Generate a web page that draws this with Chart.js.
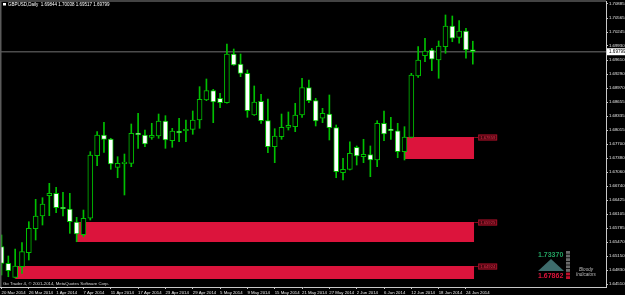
<!DOCTYPE html>
<html>
<head>
<meta charset="utf-8">
<script src="https://cdn.jsdelivr.net/npm/chart.js@4.4.1/dist/chart.umd.min.js"></script>
<style>
  html, body { margin: 0; padding: 0; background: #000; }
  canvas { display: block; }
</style>
</head>
<body>
<canvas id="chart" width="625" height="295"></canvas>
<script>
// GBPUSD daily, 20 Mar 2014 - 25 Jun 2014 (one entry per trading day)
const openP = [
  1.65364, 1.64986, 1.64667, 1.64909, 1.65227, 1.65773, 1.66062, 1.66524, 1.66578, 1.66260,
  1.66221, 1.65925, 1.65637, 1.66010, 1.67434, 1.67905, 1.67814, 1.67170, 1.67255, 1.67261,
  1.67934, 1.67905, 1.67852, 1.67882, 1.68223, 1.67775, 1.67996, 1.68002, 1.68034, 1.68246,
  1.68701, 1.68913, 1.68740, 1.68640, 1.69747, 1.69520, 1.69308, 1.68360, 1.68671, 1.68230,
  1.67639, 1.67866, 1.68080, 1.68093, 1.68360, 1.68981, 1.68685, 1.68285, 1.68382, 1.68071,
  1.67047, 1.67124, 1.67625, 1.67411, 1.67457, 1.67336, 1.68171, 1.68041, 1.68002, 1.67525,
  1.67852, 1.69247, 1.69709, 1.69839, 1.69611, 1.69914, 1.70385, 1.70127, 1.70271, 1.69844
];
const highP = [
  1.65630, 1.65152, 1.65311, 1.65455, 1.65932, 1.66442, 1.66478, 1.66806, 1.66715, 1.66601,
  1.66578, 1.66032, 1.66198, 1.67525, 1.67980, 1.68194, 1.67830, 1.67411, 1.67472, 1.68155,
  1.68398, 1.68018, 1.68171, 1.68382, 1.68344, 1.68057, 1.68285, 1.68246, 1.68451, 1.69004,
  1.69179, 1.68944, 1.68853, 1.69975, 1.69861, 1.69747, 1.69384, 1.69020, 1.68831, 1.68724,
  1.68048, 1.68382, 1.68428, 1.68626, 1.69195, 1.69156, 1.68740, 1.68512, 1.68815, 1.68132,
  1.67375, 1.67752, 1.67655, 1.67807, 1.67655, 1.68230, 1.68451, 1.68308, 1.68171, 1.68094,
  1.69308, 1.69914, 1.70105, 1.69877, 1.70043, 1.70635, 1.70612, 1.70505, 1.70332, 1.70038
];
const lowP = [
  1.64720, 1.64681, 1.64651, 1.64758, 1.65061, 1.65516, 1.65857, 1.66069, 1.66137, 1.66062,
  1.65668, 1.65477, 1.65591, 1.65971, 1.67206, 1.67511, 1.67124, 1.66933, 1.66540, 1.67184,
  1.67602, 1.67639, 1.67807, 1.67830, 1.67602, 1.67625, 1.67752, 1.67752, 1.67921, 1.68057,
  1.68685, 1.68185, 1.68526, 1.68630, 1.69490, 1.69231, 1.68307, 1.68350, 1.68171, 1.67502,
  1.67275, 1.67807, 1.68018, 1.67980, 1.68307, 1.68640, 1.68110, 1.68185, 1.67791, 1.66933,
  1.66881, 1.67109, 1.67222, 1.67275, 1.66957, 1.67184, 1.67775, 1.67807, 1.67388, 1.67336,
  1.67840, 1.69217, 1.69572, 1.69368, 1.69195, 1.69763, 1.70027, 1.69991, 1.69650, 1.69517
];
const closeP = [
  1.64986, 1.64818, 1.64924, 1.65250, 1.65782, 1.66062, 1.66335, 1.66578, 1.66251, 1.66228,
  1.65932, 1.65652, 1.66010, 1.67450, 1.67905, 1.67807, 1.67245, 1.67261, 1.67265, 1.67943,
  1.67912, 1.67700, 1.67898, 1.68223, 1.67791, 1.67996, 1.67950, 1.68034, 1.68246, 1.68717,
  1.68913, 1.68656, 1.68640, 1.69747, 1.69497, 1.69308, 1.68458, 1.68656, 1.68230, 1.67639,
  1.67882, 1.68080, 1.68126, 1.68360, 1.68981, 1.68685, 1.68223, 1.68398, 1.68071, 1.67070,
  1.67124, 1.67488, 1.67427, 1.67466, 1.67336, 1.68171, 1.67928, 1.68002, 1.67525, 1.67859,
  1.69270, 1.69611, 1.69816, 1.69627, 1.69930, 1.70385, 1.70105, 1.70271, 1.69839, 1.69799
];

const dateTickIdx = [0, 4, 8, 12, 16, 20, 24, 28, 32, 36, 40, 44, 48, 52, 56, 60, 64, 68];
const dateLabels = ['20 Mar 2014', '26 Mar 2014', '1 Apr 2014', '7 Apr 2014', '11 Apr 2014',
  '17 Apr 2014', '23 Apr 2014', '29 Apr 2014', '5 May 2014', '9 May 2014', '15 May 2014',
  '21 May 2014', '27 May 2014', '2 Jun 2014', '6 Jun 2014', '12 Jun 2014', '18 Jun 2014', '24 Jun 2014'];

const yTickVals = [1.70885, 1.70565, 1.70245, 1.69930, 1.69610, 1.69290, 1.68970, 1.68655, 1.68335,
  1.68015, 1.67700, 1.67380, 1.67060, 1.66740, 1.66425, 1.66105, 1.65785, 1.65470, 1.65150, 1.64830, 1.64510];

const bidPrice = 1.69799;

// supply / demand zones (rectangles), from bar index to bar index
const rectFrom = [59, 11, 2];
const rectTo = [69.2, 69.2, 69.2];
const rectTop = [1.67859, 1.65925, 1.64924];
const rectBottom = [1.67359, 1.65470, 1.64629];
const rectLabels = ['1.67859', '1.65925', '1.64924'];

const headerText = 'GBPUSD,Daily  1.69844 1.70038 1.69517 1.69799';
const footerText = 'Go Trader 4, \u00a9 2001-2014, MetaQuotes Software Corp.';
const indHigh = '1.73370';
const indLow = '1.67862';

const green = '#00c000';
const crimson = '#dc143c';
const axisCol = '#c8c8c8';
const tiny = { family: 'Liberation Sans', size: 4.3 };

const idx = openP.map((_, i) => i);
const wickData = idx.map(i => ({ x: i, y: [lowP[i], highP[i]] }));
const bodyData = idx.map(i => ({ x: i, y: [openP[i], closeP[i]] }));
const bodyFill = idx.map(i => (closeP[i] >= openP[i] ? '#000000' : '#ffffff'));

const datasets = [];
rectTop.forEach((top, k) => {
  datasets.push({
    type: 'line', data: [{ x: rectFrom[k], y: top }, { x: rectTo[k], y: top }],
    fill: '+1', backgroundColor: crimson, borderColor: 'rgba(0,0,0,0)',
    borderWidth: 1, pointRadius: 0, order: 10
  });
  datasets.push({
    type: 'line', data: [{ x: rectFrom[k], y: rectBottom[k] }, { x: rectTo[k], y: rectBottom[k] }],
    fill: false, borderColor: 'rgba(0,0,0,0)', borderWidth: 1, pointRadius: 0, order: 10
  });
});
datasets.push({
  type: 'line', data: [{ x: -1, y: bidPrice }, { x: 90, y: bidPrice }],
  borderColor: '#4c4c4c', borderWidth: 1.5, pointRadius: 0, fill: false, order: 9
});
datasets.push({
  type: 'bar', data: wickData, backgroundColor: green, borderWidth: 0,
  barThickness: 1, grouped: false, order: 2
});
datasets.push({
  type: 'bar', data: bodyData, backgroundColor: bodyFill, borderColor: green,
  borderWidth: 1, borderSkipped: false, barThickness: 5, minBarLength: 1.5,
  grouped: false, order: 1
});

const decor = {
  id: 'decor',
  beforeDraw(chart) {
    const c = chart.ctx;
    c.save();
    c.fillStyle = '#000';
    c.fillRect(0, 0, chart.width, chart.height);
    c.restore();
  },
  afterDraw(chart) {
    const c = chart.ctx;
    const a = chart.chartArea;
    const xs = chart.scales.x, ys = chart.scales.y;
    c.save();
    // chart frame (top / left)
    c.strokeStyle = '#5a5a5a';
    c.lineWidth = 1.5;
    c.beginPath();
    c.moveTo(a.left + 0.75, a.bottom);
    c.lineTo(a.left + 0.75, a.top);
    c.lineTo(a.right, a.top);
    c.stroke();

    // header
    c.fillStyle = '#ffffff';
    c.fillRect(3, 3, 3, 2.5);
    c.font = '4.5px "Liberation Sans"';
    c.textBaseline = 'middle';
    c.textAlign = 'left';
    c.fillText(headerText, 8, 4.5);

    // footer
    c.fillStyle = '#d8d8d8';
    c.font = '4.3px "Liberation Sans"';
    c.fillText(footerText, 3, 283.5);

    // rectangle price labels
    rectTop.forEach((top, k) => {
      const xr = xs.getPixelForValue(rectTo[k]);
      const yt = ys.getPixelForValue(top);
      c.strokeStyle = '#8b0a1e';
      c.lineWidth = 1;
      c.beginPath();
      c.moveTo(xr, yt + 0.5);
      c.lineTo(xr + 4, yt + 0.5);
      c.stroke();
      c.fillStyle = '#4a0610';
      c.fillRect(xr + 4, yt - 2.5, 19, 6);
      c.strokeStyle = '#a01028';
      c.strokeRect(xr + 4.5, yt - 2, 18, 5);
      c.fillStyle = '#e0304c';
      c.font = '4.2px "Liberation Sans"';
      c.fillText(rectLabels[k], xr + 6, yt + 0.6);
    });

    // bid price label on the axis
    const yb = ys.getPixelForValue(bidPrice);
    c.fillStyle = '#ffffff';
    c.fillRect(a.right + 1, yb - 3.5, 19, 7);
    c.fillStyle = '#000000';
    c.font = '4.6px "Liberation Sans"';
    c.fillText(bidPrice.toFixed(5), a.right + 3, yb + 0.3);

    // indicator block bottom right
    c.font = 'bold 7px "Liberation Sans"';
    c.fillStyle = '#23a060';
    c.fillText(indHigh, 538, 255);
    c.fillStyle = '#3e6c6c';
    c.beginPath();
    c.moveTo(538, 271);
    c.lineTo(551, 259);
    c.lineTo(564, 271);
    c.closePath();
    c.fill();
    c.fillStyle = crimson;
    c.fillText(indLow, 538, 276);
    for (let s = 0; s < 8; s++) {
      c.fillStyle = s >= 6 ? '#c0102c' : '#6a6a6a';
      c.fillRect(566, 251 + s * 3.6, 4, 2.8);
    }
    c.fillStyle = '#bdbdbd';
    c.font = 'italic 4.6px "Liberation Sans"';
    c.fillText('Bloody', 579, 270);
    c.fillText('Indicators', 576, 274.5);
    c.restore();
  }
};

new Chart(document.getElementById('chart'), {
  type: 'bar',
  data: { datasets: datasets },
  plugins: [decor],
  options: {
    responsive: false,
    animation: false,
    events: [],
    layout: { padding: { top: 1, left: 0, right: 0, bottom: 0 } },
    plugins: {
      legend: { display: false },
      tooltip: { enabled: false },
      filler: { drawTime: 'beforeDatasetsDraw' }
    },
    scales: {
      x: {
        type: 'linear', position: 'bottom', offset: false,
        min: -0.22, max: 88.5,
        afterBuildTicks: s => { s.ticks = dateTickIdx.map(v => ({ value: v })); },
        afterFit: s => { s.height = 8; s.paddingLeft = 0; s.paddingRight = 0; },
        ticks: {
          autoSkip: false, maxRotation: 0, align: 'start', padding: 1,
          color: '#e6e6e6', font: tiny,
          callback: (v, i) => dateLabels[i]
        },
        grid: { drawOnChartArea: false, offset: false, tickLength: 2, color: axisCol },
        border: { display: true, color: axisCol, width: 1 }
      },
      y: {
        type: 'linear', position: 'right',
        min: 1.64447, max: 1.70953,
        afterBuildTicks: s => { s.ticks = yTickVals.map(v => ({ value: v })); },
        afterFit: s => { s.width = 19; s.paddingTop = 0; s.paddingBottom = 0; },
        ticks: {
          padding: 1, color: '#e6e6e6', font: tiny,
          callback: v => v.toFixed(5)
        },
        grid: { drawOnChartArea: false, tickLength: 2, color: axisCol },
        border: { display: true, color: axisCol, width: 1 }
      }
    }
  }
});
</script>
</body>
</html>
